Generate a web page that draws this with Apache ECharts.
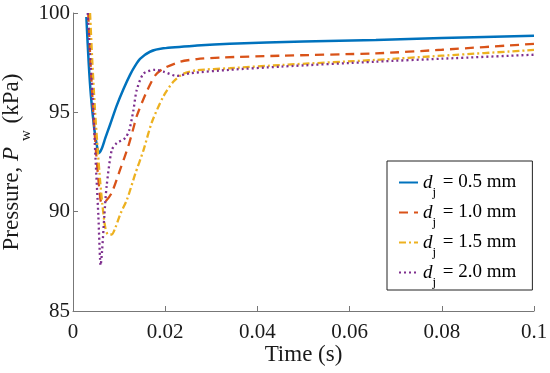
<!DOCTYPE html>
<html>
<head>
<meta charset="utf-8">
<script src="https://cdn.jsdelivr.net/npm/echarts@6/dist/echarts.min.js"></script>
<style>html,body{margin:0;padding:0;background:#fff;}#c{width:550px;height:373px;}</style>
</head>
<body>
<div id="c"></div>
<script>
const xTicks = [0, 0.02, 0.04, 0.06, 0.08, 0.1];
const yTicks = [85, 90, 95, 100];
const seriesNames = ['0.5', '1.0', '1.5', '2.0'];

const blue = [[0.0029,99.8],[0.0034,97.5],[0.0039,95.8],[0.0046,94.2],[0.0052,93.3],[0.0056,92.95],[0.0062,93.15],[0.0070,93.7],[0.0080,94.35],[0.0095,95.35],[0.0110,96.2],[0.0124,96.9],[0.0135,97.35],[0.0146,97.7],[0.0167,98.05],[0.0196,98.22],[0.0269,98.36],[0.034,98.45],[0.05,98.56],[0.0657,98.64],[0.08,98.74],[0.1,98.86]];
const red = [[0.0033,100],[0.0038,97.5],[0.0044,95],[0.0050,93],[0.0056,91.4],[0.0062,90.45],[0.0070,90.5],[0.0084,90.95],[0.0102,92.1],[0.0120,93.3],[0.0131,94.2],[0.0138,94.8],[0.0160,96.05],[0.0178,96.85],[0.0196,97.2],[0.0233,97.55],[0.0269,97.68],[0.032,97.76],[0.045,97.85],[0.0657,97.97],[0.08,98.15],[0.1,98.45]];
const yellow = [[0.0037,100],[0.0042,97.5],[0.0048,95],[0.0054,93],[0.0059,91.5],[0.0064,90.3],[0.0070,89.2],[0.0076,88.85],[0.0084,88.85],[0.0092,89.2],[0.0103,89.9],[0.0117,90.6],[0.0135,91.9],[0.0153,93.1],[0.0171,94.5],[0.0196,95.8],[0.0218,96.55],[0.0240,96.95],[0.0269,97.12],[0.034,97.22],[0.045,97.38],[0.0657,97.64],[0.08,97.85],[0.1,98.14]];
const purple = [[0.0032,100],[0.0038,97.5],[0.0044,95.2],[0.0048,93.1],[0.0055,89.8],[0.0060,87.3],[0.0063,88.0],[0.0068,89.8],[0.0073,91.3],[0.0084,93.1],[0.0095,93.45],[0.0113,93.7],[0.0122,94.1],[0.0131,95.1],[0.0138,96.1],[0.0153,96.95],[0.0178,97.14],[0.0196,97.05],[0.0225,96.83],[0.0254,96.97],[0.034,97.14],[0.045,97.3],[0.0657,97.55],[0.08,97.7],[0.1,97.9]];

const FONT = 'Liberation Serif';
const INK = '#1a1a1a';
const colors = ['#0072BD', '#D95319', '#EDB120', '#7E2F8E'];
const dashes = ['solid', [9, 6], [7, 3, 2, 3], [2, 3]];
const datasets = [blue, red, yellow, purple];

const chart = echarts.init(document.getElementById('c'), null, {renderer: 'canvas'});
chart.setOption({
  animation: false,
  backgroundColor: '#fff',
  grid: {left: 73, right: 16, top: 13, bottom: 62, containLabel: false, outerBoundsMode: 'none'},
  xAxis: {
    type: 'value', min: 0, max: 0.1, interval: 0.02,
    axisLine: {show: true, lineStyle: {color: '#777', width: 1}},
    axisTick: {show: true, inside: true, length: 5, lineStyle: {color: '#777'}},
    splitLine: {show: false},
    axisLabel: {color: INK, fontFamily: FONT, fontSize: 21, margin: 11,
      formatter: v => String(+v.toFixed(2))},
    name: 'Time (s)', nameLocation: 'middle', nameGap: 32, nameMoveOverlap: false,
    nameTextStyle: {color: INK, fontFamily: FONT, fontSize: 23}
  },
  yAxis: {
    type: 'value', min: 85, max: 100, interval: 5,
    axisLine: {show: true, lineStyle: {color: '#777', width: 1}},
    axisTick: {show: true, inside: true, length: 5, lineStyle: {color: '#777'}},
    splitLine: {show: false},
    axisLabel: {color: INK, fontFamily: FONT, fontSize: 21, margin: 3},
    name: '{n|Pressure, }{i|P}{s|w}{n| (kPa)}', nameLocation: 'middle', nameGap: 39, nameRotate: 90,
    nameMoveOverlap: false,
    nameTextStyle: {color: INK, fontFamily: FONT, fontSize: 23,
      rich: {
        n: {fontFamily: FONT, fontSize: 23, color: INK},
        i: {fontFamily: FONT, fontSize: 23, fontStyle: 'italic', color: INK},
        s: {fontFamily: FONT, fontSize: 15, color: INK, padding: [29, 1, 0, 6]}
      }}
  },
  legend: {
    orient: 'vertical', left: 387, top: 161,
    backgroundColor: '#fff', borderColor: '#222', borderWidth: 1,
    padding: [12, 16, 1, 11], itemGap: 4, itemWidth: 19, itemHeight: 12,
    itemStyle: {opacity: 0},
    data: seriesNames,
    formatter: name => '{i|d}{s|j}{t| = ' + name + ' mm}',
    textStyle: {
      fontFamily: FONT, fontSize: 19, color: '#000',
      rich: {
        i: {fontFamily: FONT, fontSize: 19, fontStyle: 'italic', color: '#000'},
        s: {fontFamily: FONT, fontSize: 13, color: '#000', padding: [20, 2, 0, 0]},
        t: {fontFamily: FONT, fontSize: 19, color: '#000'}
      }
    }
  },
  series: datasets.map((d, k) => ({
    name: seriesNames[k], type: 'line', data: d, symbol: 'none', smooth: 0.25,
    lineStyle: {color: colors[k], width: k === 0 ? 2.5 : 2.3, type: dashes[k], cap: 'butt'},
    itemStyle: {color: colors[k]}
  }))
});
</script>
</body>
</html>
